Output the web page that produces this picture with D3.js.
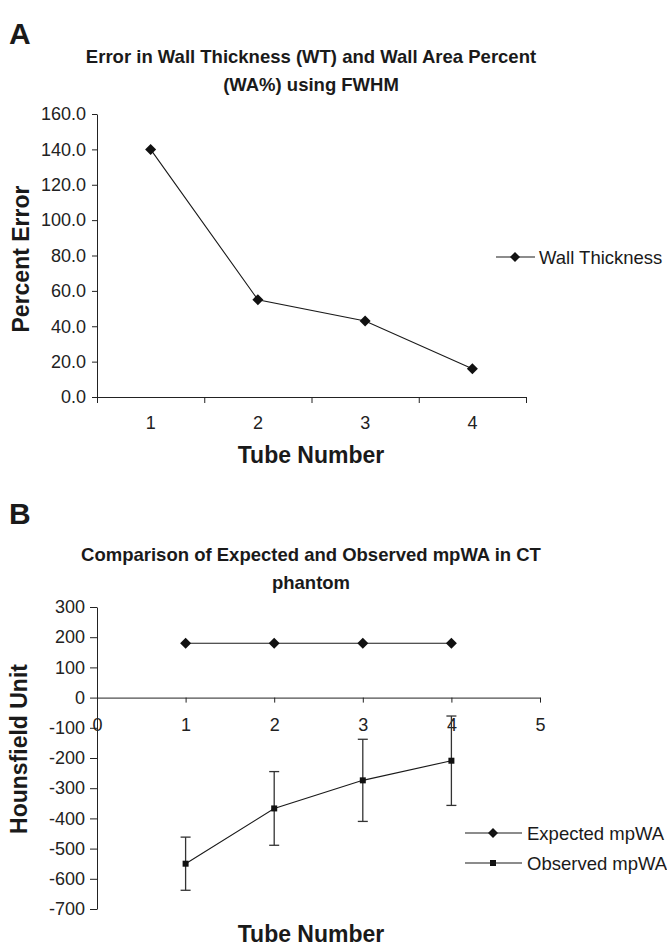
<!DOCTYPE html>
<html>
<head>
<meta charset="utf-8">
<script src="https://cdn.jsdelivr.net/npm/d3@7"></script>
<style>
	body { margin: 0; background: #fff; }
	svg { display: block; font-family: "Liberation Sans", Arial, sans-serif; }
	.tick text { font-size: 18px; fill: #222; }
	.domain, .tick line { stroke: #222; }
</style>
</head>
<body>
<div class="chart"></div>
<script>
// chart A data
var tubes = ["1", "2", "3", "4"];
var wallThickness = [140, 55, 43, 16];
var errorTicks = [0, 20, 40, 60, 80, 100, 120, 140, 160];

// chart B data
var tubeNumbers = [1, 2, 3, 4];
var expectedMpWA = [180, 180, 180, 180];
var observedMpWA = [-550, -367, -274, -209];
var observedErr = [88, 122, 136, 148];
var huTicks = [300, 200, 100, 0, -100, -200, -300, -400, -500, -600, -700];
var tubeTicks = [0, 1, 2, 3, 4, 5];

var width = 667, height = 947;
var svg = d3.select(".chart").append("svg")
	.attr("width", width)
	.attr("height", height);

function diamond(g, x, y, r){
	g.append("path")
		.attr("d", "M" + x + "," + (y - r) + "L" + (x + r) + "," + y + "L" + x + "," + (y + r) + "L" + (x - r) + "," + y + "Z")
		.style("fill", "#111");
}

function square(g, x, y, r){
	g.append("rect")
		.attr("x", x - r).attr("y", y - r)
		.attr("width", 2 * r).attr("height", 2 * r)
		.style("fill", "#111");
}

function boldText(x, y, str, size, anchor){
	return svg.append("text")
		.attr("x", x).attr("y", y)
		.attr("text-anchor", anchor || "middle")
		.style("font-size", size + "px")
		.style("font-weight", "bold")
		.style("fill", "#1a1a1a")
		.text(str);
}

// plain hyphen minus, like the original
function plain(d){ return String(d); }

// ---------- A ----------
boldText(9, 44, "A", 30, "start");
boldText(311, 63, "Error in Wall Thickness (WT) and Wall Area Percent", 18.5);
boldText(311, 91, "(WA%) using FWHM", 18.5);

var ax0 = 97, ax1 = 526, ay0 = 397, ay1 = 114;
var xBand = d3.scaleBand().domain(tubes).range([ax0, ax1]);
var xEdge = d3.scaleLinear().domain([0, 4]).range([ax0, ax1]);
var yA = d3.scaleLinear().domain([0, 160]).range([ay0, ay1]);

svg.append("g")
	.attr("transform", "translate(" + ax0 + ",0)")
	.call(d3.axisLeft(yA).tickValues(errorTicks).tickFormat(d3.format(".1f")).tickSize(5).tickSizeOuter(0).tickPadding(6));

svg.append("g")
	.attr("transform", "translate(0," + ay0 + ")")
	.call(d3.axisBottom(xEdge).tickValues([0, 1, 2, 3, 4]).tickFormat("").tickSize(6).tickSizeOuter(0));

var xLab = svg.append("g")
	.attr("transform", "translate(0," + ay0 + ")")
	.call(d3.axisBottom(xBand).tickSize(0).tickPadding(19));
xLab.select(".domain").remove();

var lineA = d3.line()
	.x(function(d, i){ return xBand(tubes[i]) + xBand.bandwidth() / 2; })
	.y(function(d){ return yA(d); });

svg.append("path")
	.datum(wallThickness)
	.attr("d", lineA)
	.style("fill", "none")
	.style("stroke", "#1a1a1a")
	.style("stroke-width", 1.1);

var gA = svg.append("g");
wallThickness.forEach(function(v, i){
	diamond(gA, xBand(tubes[i]) + xBand.bandwidth() / 2, yA(v), 5.5);
});

boldText(311, 463, "Tube Number", 23);
boldText(0, 0, "Percent Error", 23)
	.attr("transform", "translate(29,259) rotate(-90)");

// legend A
svg.append("line").attr("x1", 496).attr("x2", 535).attr("y1", 257).attr("y2", 257)
	.style("stroke", "#1a1a1a").style("stroke-width", 1.1);
diamond(gA, 515, 257, 5);
svg.append("text").attr("x", 539).attr("y", 263.5)
	.style("font-size", "18.5px").style("fill", "#1a1a1a")
	.text("Wall Thickness");

// ---------- B ----------
boldText(9, 524, "B", 30, "start");
boldText(311, 561, "Comparison of Expected and Observed mpWA in CT", 18.5);
boldText(311, 589, "phantom", 18.5);

var bx0 = 97, bx1 = 540;
var xB = d3.scaleLinear().domain([0, 5]).range([bx0, bx1]);
var yB = d3.scaleLinear().domain([-700, 300]).range([909, 607]);

svg.append("g")
	.attr("transform", "translate(" + bx0 + ",0)")
	.call(d3.axisLeft(yB).tickValues(huTicks).tickFormat(plain).tickSize(7).tickSizeOuter(0).tickPadding(5));

svg.append("g")
	.attr("transform", "translate(0," + yB(0) + ")")
	.call(d3.axisBottom(xB).tickValues(tubeTicks).tickFormat(plain).tickSize(5).tickSizeOuter(0).tickPadding(16));

var lineB = d3.line()
	.x(function(d, i){ return xB(tubeNumbers[i]); })
	.y(function(d){ return yB(d); });

svg.append("path")
	.datum(expectedMpWA)
	.attr("d", lineB)
	.style("fill", "none")
	.style("stroke", "#1a1a1a")
	.style("stroke-width", 1.1);

svg.append("path")
	.datum(observedMpWA)
	.attr("d", lineB)
	.style("fill", "none")
	.style("stroke", "#1a1a1a")
	.style("stroke-width", 1.1);

var gB = svg.append("g");
observedMpWA.forEach(function(v, i){
	var x = xB(tubeNumbers[i]);
	var top = yB(v + observedErr[i]), bot = yB(v - observedErr[i]);
	gB.append("line").attr("x1", x).attr("x2", x).attr("y1", top).attr("y2", bot)
		.style("stroke", "#333").style("stroke-width", 1.3);
	gB.append("line").attr("x1", x - 5).attr("x2", x + 5).attr("y1", top).attr("y2", top)
		.style("stroke", "#333").style("stroke-width", 1.3);
	gB.append("line").attr("x1", x - 5).attr("x2", x + 5).attr("y1", bot).attr("y2", bot)
		.style("stroke", "#333").style("stroke-width", 1.3);
	square(gB, x, yB(v), 3);
});
expectedMpWA.forEach(function(v, i){
	diamond(gB, xB(tubeNumbers[i]), yB(v), 5.5);
});

boldText(311, 942, "Tube Number", 23);
boldText(0, 0, "Hounsfield Unit", 23)
	.attr("transform", "translate(27,749) rotate(-90)");

// legend B
svg.append("line").attr("x1", 465).attr("x2", 522).attr("y1", 833).attr("y2", 833)
	.style("stroke", "#1a1a1a").style("stroke-width", 1.1);
diamond(gB, 493, 833, 5);
svg.append("text").attr("x", 527).attr("y", 839.5)
	.style("font-size", "18.5px").style("fill", "#1a1a1a")
	.text("Expected mpWA");

svg.append("line").attr("x1", 465).attr("x2", 522).attr("y1", 863).attr("y2", 863)
	.style("stroke", "#1a1a1a").style("stroke-width", 1.1);
square(gB, 493, 863, 3);
svg.append("text").attr("x", 527).attr("y", 869.5)
	.style("font-size", "18.5px").style("fill", "#1a1a1a")
	.text("Observed mpWA");
</script>
</body>
</html>
